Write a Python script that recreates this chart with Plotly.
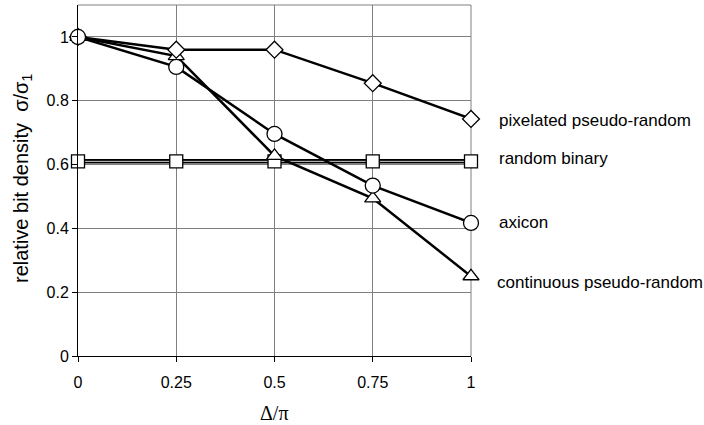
import plotly.graph_objects as go

x_vals = [0, 0.25, 0.5, 0.75, 1]
pixelated = [1.0, 0.96, 0.96, 0.855, 0.743]
random_binary = [0.61, 0.61, 0.61, 0.61, 0.61]
axicon = [1.0, 0.906, 0.696, 0.534, 0.417]
continuous = [1.0, 0.94, 0.627, 0.494, 0.25]
x_ticks = [0, 0.25, 0.5, 0.75, 1]
x_tick_labels = ["0", "0.25", "0.5", "0.75", "1"]
y_ticks = [0, 0.2, 0.4, 0.6, 0.8, 1]
y_tick_labels = ["0", "0.2", "0.4", "0.6", "0.8", "1"]

L, R, T, B = 78, 471, 5, 356

fig = go.Figure()
# random binary: double-line look
fig.add_trace(go.Scatter(x=x_vals, y=random_binary, mode="lines",
                         line=dict(color="black", width=4.5), showlegend=False, hoverinfo="skip"))
fig.add_trace(go.Scatter(x=x_vals, y=random_binary, mode="lines",
                         line=dict(color="#d0d0d0", width=1), showlegend=False, hoverinfo="skip"))
fig.add_trace(go.Scatter(
    x=x_vals, y=random_binary, name="random binary", mode="markers",
    marker=dict(symbol="square", size=13, color="white", line=dict(color="black", width=1.3)),
    cliponaxis=False, showlegend=False))

series = [
    ("continuous pseudo-random", continuous, "triangle-up", 14),
    ("pixelated pseudo-random", pixelated, "diamond", 13),
    ("axicon", axicon, "circle", 15),
]
for name, ys, sym, sz in series:
    fig.add_trace(go.Scatter(
        x=x_vals, y=ys, name=name, mode="lines+markers",
        line=dict(color="black", width=2.5),
        marker=dict(symbol=sym, size=sz, color="white",
                    line=dict(color="black", width=1.3)),
        cliponaxis=False, showlegend=False,
    ))

labels = [
    ("pixelated pseudo-random", 120, 497),
    ("random binary", 159, 497),
    ("axicon", 222, 497),
    ("continuous pseudo-random", 282, 495),
]
for text, py, px in labels:
    fig.add_annotation(
        text=text, xref="paper", yref="paper",
        x=(px - L) / (R - L), y=(B - py) / (B - T),
        xanchor="left", yanchor="middle", showarrow=False,
        font=dict(family="Liberation Sans, Arial", size=17, color="black"),
    )

# axis titles
fig.add_annotation(
    text="relative bit density  σ/σ<sub>1</sub>", xref="paper", yref="paper",
    x=(22 - L) / (R - L), y=(B - 179) / (B - T), textangle=-90,
    xanchor="center", yanchor="middle", showarrow=False,
    font=dict(family="Liberation Sans, Arial", size=20, color="black"),
)
fig.add_annotation(
    text="Δ/π", xref="paper", yref="paper",
    x=(274 - L) / (R - L), y=(B - 413) / (B - T),
    xanchor="center", yanchor="middle", showarrow=False,
    font=dict(family="Liberation Serif, Times New Roman", size=20, color="black"),
)

fig.update_layout(
    width=704, height=425,
    margin=dict(l=L, r=704 - R, t=T, b=425 - B),
    paper_bgcolor="white", plot_bgcolor="white",
    font=dict(family="Liberation Sans, Arial", size=16, color="black"),
    xaxis=dict(
        range=[0, 1], tickvals=x_ticks, ticktext=x_tick_labels,
        showgrid=True, gridcolor="#808080", gridwidth=1,
        showline=True, linecolor="black", linewidth=1,
        ticks="outside", ticklen=5, tickcolor="black",
        ticklabelstandoff=7,
        zeroline=False, automargin=False,
    ),
    yaxis=dict(
        range=[0, 1.1], tickvals=y_ticks, ticktext=y_tick_labels,
        showgrid=True, gridcolor="#808080", gridwidth=1,
        showline=True, linecolor="black", linewidth=1,
        ticks="outside", ticklen=5, tickcolor="black",
        zeroline=False, automargin=False,
    ),
    shapes=[
        dict(type="line", xref="paper", yref="paper", x0=0, x1=1, y0=1, y1=1,
             line=dict(color="#808080", width=1), layer="below"),
        dict(type="line", xref="paper", yref="paper", x0=1, x1=1, y0=0, y1=1,
             line=dict(color="#808080", width=1), layer="below"),
    ],
)

fig.write_html("out.html", config={"displayModeBar": False},
               post_script="document.body.style.margin='0';")
